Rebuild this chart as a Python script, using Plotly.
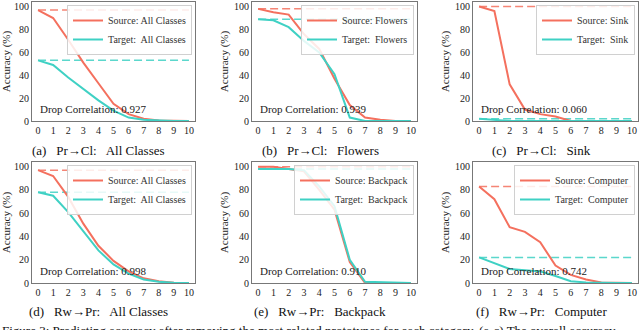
import plotly.graph_objects as go

# ---------------------- data ----------------------
steps = list(range(11))

src_a = [97, 90, 71, 51, 33, 15, 6, 2, 0.5, 0, 0]
tgt_a = [53, 49, 38, 28, 18, 9, 3, 1, 0.3, 0, 0]
src_b = [98, 95, 93, 76, 63, 37, 14, 3, 1, 0, 0]
tgt_b = [89, 88, 82, 70, 60, 41, 3, 0, 0, 0, 0]
src_c = [100, 96, 32, 10, 6, 4, 0, 0, 0, 0, 0]
tgt_c = [2, 0.7, 0, 0, 0, 0, 0, 0, 0, 0, 0]
src_d = [97, 92, 74, 51, 32, 19, 10, 4, 1.5, 0.3, 0]
tgt_d = [78, 75, 61, 44, 28, 16, 8, 3, 1, 0.2, 0]
src_e = [100, 100, 98, 96, 80, 63, 18, 0, 0, 0, 0]
tgt_e = [98, 98, 98, 97, 83, 66, 20, 1, 0.5, 0, 0]
src_f = [83, 72, 48, 44, 35, 15, 7, 3, 0.5, 0, 0]
tgt_f = [22, 17, 12, 11, 10, 6, 1.5, 0.5, 0, 0, 0]

categories = ["All Classes", "Flowers", "Sink", "All Classes", "Backpack", "Computer"]
tasks = ["Pr→Cl", "Pr→Cl", "Pr→Cl", "Rw→Pr", "Rw→Pr", "Rw→Pr"]
letters = ["(a)", "(b)", "(c)", "(d)", "(e)", "(f)"]
drop_corr = ["0.927", "0.939", "0.060", "0.998", "0.910", "0.742"]
sources = [src_a, src_b, src_c, src_d, src_e, src_f]
targets = [tgt_a, tgt_b, tgt_c, tgt_d, tgt_e, tgt_f]

figure_caption = ("Figure 3: Predicting accuracy after removing the most related prototypes "
                  "for each category. (a-c) The overall accuracy")

# ---------------------- style ----------------------
W, H = 640, 330
SRC = "#F4705E"
TGT = "#3FD1C4"
FONT = "Times New Roman"

col_px = [(32, 195), (252, 417), (473, 638)]
row_px = [(2, 121), (162, 283)]
caption_y_px = [150, 311]
caption_x_px = [98, 320, 541]

fig = go.Figure()
annotations = []
axes = {}
legends = {}

for i in range(6):
    r, c = divmod(i, 3)
    n = i + 1
    xa = "x" if n == 1 else f"x{n}"
    ya = "y" if n == 1 else f"y{n}"
    leg = "legend" if n == 1 else f"legend{n}"
    x0, x1 = col_px[c]
    y0, y1 = row_px[r]

    axis_common = dict(
        showline=True, mirror=True, linecolor="#777", linewidth=1,
        showgrid=False, zeroline=False, ticks="",
        tickfont=dict(family=FONT, size=10, color="#222"),
    )
    axes["xaxis" if n == 1 else f"xaxis{n}"] = dict(
        axis_common, domain=[x0 / W, x1 / W], range=[-0.4, 10.4],
        tickvals=steps, anchor=ya,
    )
    axes["yaxis" if n == 1 else f"yaxis{n}"] = dict(
        axis_common, domain=[1 - y1 / H, 1 - y0 / H], range=[0, 104],
        tickvals=[0, 20, 40, 60, 80, 100], anchor=xa,
        title=dict(text="Accuracy (%)", font=dict(family=FONT, size=11, color="#222"),
                   standoff=3),
    )

    src, tgt = sources[i], targets[i]
    fig.add_trace(go.Scatter(
        x=[steps[0], steps[-1]], y=[src[0], src[0]], mode="lines",
        line=dict(color=SRC, width=1.5, dash="8px,4px"), opacity=0.85,
        xaxis=xa, yaxis=ya, showlegend=False, hoverinfo="skip"))
    fig.add_trace(go.Scatter(
        x=[steps[0], steps[-1]], y=[tgt[0], tgt[0]], mode="lines",
        line=dict(color=TGT, width=1.5, dash="8px,4px"), opacity=0.85,
        xaxis=xa, yaxis=ya, showlegend=False, hoverinfo="skip"))
    fig.add_trace(go.Scatter(
        x=steps, y=src, mode="lines", line=dict(color=SRC, width=2),
        name=f"Source: {categories[i]}", xaxis=xa, yaxis=ya, legend=leg))
    fig.add_trace(go.Scatter(
        x=steps, y=tgt, mode="lines", line=dict(color=TGT, width=2),
        name=f"Target:\u00a0 {categories[i]}", xaxis=xa, yaxis=ya, legend=leg))

    legends[leg] = dict(
        x=(x1 - 3) / W, y=1 - (y0 + 3) / H, xanchor="right", yanchor="top",
        bgcolor="rgba(255,255,255,0.85)", bordercolor="#d0d0d0", borderwidth=1,
        font=dict(family=FONT, size=10, color="#333"),
        itemwidth=30,
    )

    annotations.append(dict(
        xref=xa, yref=ya, x=0, y=10.5, xanchor="left", yanchor="middle",
        text=f"Drop Correlation: {drop_corr[i]}", showarrow=False,
        font=dict(family=FONT, size=11, color="#222")))

    annotations.append(dict(
        xref="paper", yref="paper", x=caption_x_px[c] / W, y=1 - caption_y_px[r] / H,
        xanchor="center", yanchor="middle", showarrow=False,
        text=f"{letters[i]}\u00a0\u00a0 {tasks[i]}:\u00a0\u00a0 {categories[i]}",
        font=dict(family=FONT, size=13, color="#111")))

annotations.append(dict(
    xref="paper", yref="paper", x=0, y=1 - 321 / H, xanchor="left", yanchor="top",
    showarrow=False, text=figure_caption,
    font=dict(family=FONT, size=13, color="#111")))

fig.update_layout(
    width=W, height=H,
    margin=dict(l=0, r=0, t=0, b=0, autoexpand=False),
    paper_bgcolor="white", plot_bgcolor="white",
    font=dict(family=FONT, size=10, color="#222"),
    annotations=annotations,
    **axes, **legends,
)

# the page body has a default margin; drop it so the figure sits at the window corner
fig.write_html(
    "out.html",
    config={"displayModeBar": False},
    post_script="document.body.style.margin = '0';",
)
